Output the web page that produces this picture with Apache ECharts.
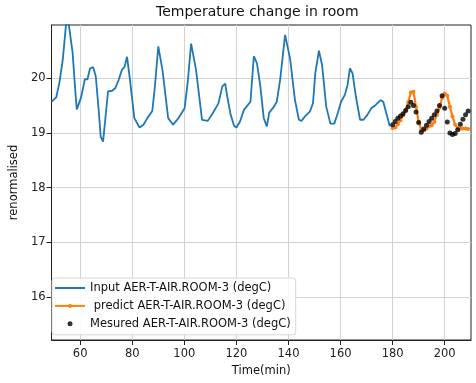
<!DOCTYPE html>
<html>
<head>
<meta charset="utf-8">
<script src="https://cdn.jsdelivr.net/npm/echarts@6/dist/echarts.min.js"></script>
<style>html,body{margin:0;padding:0;background:#fff;}#c{width:476px;height:383px;}</style>
</head>
<body>
<div id="c"></div>
<script>
// ---- data ----
const inputTime = [49, 50.8, 52, 53.3, 55, 57.1, 58, 58.7, 60.3, 61.8, 62.8, 63.8, 65, 66, 67.2, 67.9, 68.8, 70.7, 72.3, 73.5, 74.8, 76, 77, 78, 79.2, 80.8, 82.8, 84.3, 85.8, 87.7, 88.7, 90, 91.6, 93.8, 95.7, 97.9, 100.1, 101.4, 102.6, 104.5, 106.8, 109, 110.9, 113.1, 114.6, 115.7, 116.5, 117.8, 119.1, 120, 121.4, 122.9, 125.4, 126.7, 127.9, 129.2, 130.5, 131.7, 132.6, 134.3, 135.5, 136.8, 138.7, 140.6, 142.5, 144, 145, 146.3, 148.2, 149.4, 150.3, 151.7, 152.9, 154.5, 156.1, 157.6, 158.9, 160.2, 161.7, 162.7, 163.6, 164.6, 165.9, 167.5, 168.8, 170.3, 171.8, 173.5, 175.4, 176.4, 178.9];
const inputTemp = [19.57, 19.65, 19.91, 20.33, 21.2, 20.46, 19.85, 19.43, 19.64, 19.98, 19.98, 20.18, 20.2, 20.03, 19.36, 18.93, 18.84, 19.76, 19.77, 19.82, 19.97, 20.15, 20.2, 20.39, 19.94, 19.27, 19.1, 19.15, 19.27, 19.4, 19.85, 20.58, 20.15, 19.27, 19.15, 19.28, 19.45, 19.97, 20.63, 20.15, 19.24, 19.22, 19.36, 19.54, 19.85, 19.9, 19.66, 19.33, 19.13, 19.1, 19.21, 19.42, 19.57, 20.4, 20.27, 19.85, 19.27, 19.12, 19.37, 19.47, 19.57, 19.97, 20.79, 20.36, 19.6, 19.24, 19.22, 19.3, 19.39, 19.54, 20.09, 20.5, 20.24, 19.48, 19.17, 19.17, 19.36, 19.57, 19.7, 19.88, 20.18, 20.09, 19.66, 19.24, 19.24, 19.33, 19.45, 19.51, 19.6, 19.57, 19.12];

const predTime = [180,181,182,183,184,185,186,187,188,189,190,191,192,193,194,195,196,197,198,199,200,201,202,203,204,205,206,207,208,209];
const predTemp = [19.09,19.10,19.16,19.23,19.32,19.42,19.56,19.74,19.75,19.48,19.20,19.06,19.05,19.08,19.12,19.14,19.20,19.33,19.46,19.64,19.72,19.68,19.48,19.30,19.15,19.09,19.08,19.08,19.08,19.07];

const measTime = [180,181,182,183,184,185,186,187,188,189,190,191,192,193,194,195,196,197,198,199,200,201,202,203,204,205,206,207,208,209];
const measTemp = [19.15,19.21,19.27,19.31,19.35,19.41,19.48,19.56,19.50,19.38,19.19,19.01,19.07,19.14,19.21,19.27,19.33,19.40,19.50,19.68,19.45,19.20,19.00,18.97,18.99,19.06,19.16,19.25,19.33,19.40];

const xTicks = [60, 80, 100, 120, 140, 160, 180, 200];
const yTicks = [16, 17, 18, 19, 20];

const seriesNames = ['Input AER-T-AIR.ROOM-3 (degC)', ' predict AER-T-AIR.ROOM-3 (degC)', 'Mesured AER-T-AIR.ROOM-3 (degC)'];
const titleText = 'Temperature change in room';
const xName = 'Time(min)';
const yName = 'renormalised';

// ---- chart ----
const zip = (a, b) => a.map((v, i) => [v, b[i]]);
const FONT = 'DejaVu Sans';
const chart = echarts.init(document.getElementById('c'), null, {renderer: 'canvas'});
chart.setOption({
  animation: false,
  backgroundColor: '#fff',
  title: {
    text: titleText, left: 156, top: 5, padding: 0,
    textStyle: {fontFamily: FONT, fontSize: 14, fontWeight: 'normal', color: '#111'}
  },
  grid: {left: 46.7, right: 5, top: 25, bottom: 43, show: true, borderColor: '#222', borderWidth: 1, backgroundColor: 'transparent'},
  legend: {
    orient: 'vertical', left: 52, top: 278,
    padding: [3, 5, 4, 2], itemGap: 3.9,
    itemWidth: 30, itemHeight: 5,
    backgroundColor: 'rgba(255,255,255,0.85)', borderColor: '#d6d6d6', borderWidth: 1, borderRadius: 3,
    textStyle: {fontFamily: FONT, fontSize: 11.5, color: '#111', lineHeight: 14},
    data: [
      {name: seriesNames[0], icon: 'path://M0,0H15V1H0Z'},
      {name: seriesNames[1]},
      {name: seriesNames[2]}
    ]
  },
  xAxis: {
    type: 'value', min: 49, max: 210.1, splitNumber: 8,
    name: xName, nameLocation: 'middle', nameGap: 24,
    nameTextStyle: {fontFamily: FONT, fontSize: 11.5, color: '#111'},
    axisLine: {show: true, onZero: false, lineStyle: {color: '#222', width: 1}},
    axisTick: {show: true, inside: false, length: 5, customValues: xTicks, lineStyle: {color: '#222', width: 1}},
    axisLabel: {fontFamily: FONT, fontSize: 11.5, color: '#222', margin: 8, customValues: xTicks},
    splitLine: {show: true, lineStyle: {color: '#d3d3d3', width: 1}}
  },
  yAxis: {
    type: 'value', min: 15.22, max: 20.97, splitNumber: 5,
    name: yName, nameLocation: 'middle', nameGap: 28, nameRotate: 90,
    nameTextStyle: {fontFamily: FONT, fontSize: 11.5, color: '#111'},
    axisLine: {show: true, onZero: false, lineStyle: {color: '#222', width: 1}},
    axisTick: {show: true, inside: false, length: 5, customValues: yTicks, lineStyle: {color: '#222', width: 1}},
    axisLabel: {fontFamily: FONT, fontSize: 11.5, color: '#222', margin: 6, customValues: yTicks},
    splitLine: {show: true, lineStyle: {color: '#d3d3d3', width: 1}}
  },
  series: [
    {
      name: seriesNames[0], type: 'line', data: zip(inputTime, inputTemp),
      symbol: 'none', clip: true,
      lineStyle: {color: '#1f77b4', width: 1.8}, itemStyle: {color: '#1f77b4'}, z: 2
    },
    {
      name: seriesNames[1], type: 'line', data: zip(predTime, predTemp),
      symbol: 'circle', symbolSize: 4, showSymbol: true, clip: true,
      lineStyle: {color: '#ff7f0e', width: 2.2}, itemStyle: {color: '#ff7f0e'}, z: 3
    },
    {
      name: seriesNames[2], type: 'scatter', data: zip(measTime, measTemp),
      symbol: 'circle', symbolSize: 5, clip: true,
      itemStyle: {color: '#000'}, z: 4
    }
  ]
});
</script>
</body>
</html>
